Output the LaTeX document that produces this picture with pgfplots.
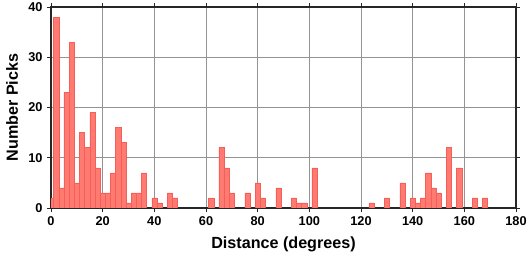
\documentclass[border=0pt]{standalone}
\usepackage{fontspec}
\setmainfont{Liberation Sans}
\usepackage{pgfplots}
\pgfplotsset{compat=1.18}
\definecolor{barfill}{RGB}{255,123,114}
\definecolor{baredge}{RGB}{245,95,88}
\begin{document}
\begin{tikzpicture}
\useasboundingbox (-51bp,-50bp) rectangle (479bp,208bp);
\begin{axis}[
  at={(0,0)}, anchor=south west,
  scale only axis, width=465bp, height=201bp,
  xmin=0, xmax=180, ymin=0, ymax=40,
  xtick={0,20,...,180}, ytick={0,10,...,40},
  grid=major, major grid style={gray!85, line width=0.5bp},
  axis line style={line width=1.3bp, black!85},
  tick style={line width=0.8bp, black!85},
  tick align=outside, major tick length=4bp,
  xtick pos=both, ytick pos=both,
  xticklabel pos=bottom, yticklabel pos=left,
  /pgf/number format/assume math mode=true,
  ticklabel style={font=\fontsize{12.8}{15}\selectfont\bfseries},
  xticklabel style={yshift=-1.5bp},
  yticklabel style={xshift=-1bp},
  label style={font=\fontsize{16.2}{19}\selectfont\bfseries},
  xlabel={Distance (degrees)}, ylabel={Number Picks},
  xlabel style={at={(axis description cs:0.5,-0.179)}, anchor=center},
  ylabel style={at={(axis description cs:-0.0839,0.5)}, anchor=center},
  ybar, bar width=2, bar shift=0,
]
\addplot[fill=barfill, draw=baredge, line width=0.4bp] coordinates {
(0,2) (2,38) (4,4) (6,23) (8,33) (10,5) (12,15) (14,12) (16,19) (18,8)
(20,3) (22,3) (24,7) (26,16) (28,13) (30,1) (32,3) (34,3) (36,7)
(40,2) (42,1) (46,3) (48,2) (62,2) (66,12) (68,8) (70,3) (76,3)
(80,5) (82,2) (88,4) (94,2) (96,1) (98,1) (102,8) (124,1) (130,2)
(136,5) (140,2) (142,1) (144,2) (146,7) (148,4) (150,3) (154,12)
(158,8) (164,2) (168,2)
};
\end{axis}
\end{tikzpicture}
\end{document}
